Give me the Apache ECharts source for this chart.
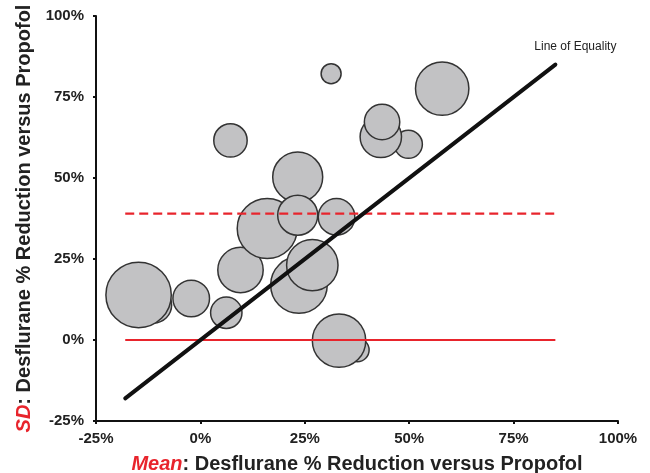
<!DOCTYPE html>
<html>
<head>
<meta charset="utf-8">
<script src="https://cdn.jsdelivr.net/npm/echarts@6/dist/echarts.min.js"></script>
<style>
html,body{margin:0;padding:0;background:#fff;}
#c{width:650px;height:473px;}
</style>
</head>
<body>
<div id="c"></div>
<script>
// Bubble data: mean reduction (%), SD reduction (%), relative weight (bubble radius units)
const meanVals = [-11.2, -14.8, -2.2, 6.2, 9.6, 16.0, 23.6, 26.8, 23.3, 32.6, 23.3, 7.2, 37.6, 33.2, 31.3, 49.8, 43.2, 43.5, 57.9];
const sdVals   = [ 10.8,  13.9, 12.8, 8.4, 21.6, 34.4, 17.0, 23.1, 50.3, 38.0, 38.5, 61.6, -3.1, -0.2, 82.2, 60.4, 62.7, 67.3, 77.6];
const weights  = [ 18.0,  32.7, 18.3, 15.7, 22.7, 30.0, 28.3, 25.7, 25.0, 18.3, 20.0, 16.7, 11.7, 26.7, 10.0, 14.0, 20.7, 17.7, 26.7];

const equalityX = [-18, 85];
const equalityY = [-18, 85];
const sdMeanLevel = 39;   // dashed red
const zeroLevel = 0;      // solid red
const refX = [-18, 85];

const ticks = [-25, 0, 25, 50, 75, 100];

const bubbleData = meanVals.map((m, i) => [m, sdVals[i], weights[i]]);
const eqData = equalityX.map((x, i) => i === equalityX.length - 1
  ? {value: [x, equalityY[i]], symbolSize: 0.1,
     label: {show: true, formatter: 'Line of Equality', position: 'top', offset: [20, -7],
             color: '#222', fontSize: 12, fontFamily: 'Liberation Sans, Arial, sans-serif'}}
  : {value: [x, equalityY[i]], symbolSize: 0.1});
const dashData = refX.map(x => [x, sdMeanLevel]);
const zeroData = refX.map(x => [x, zeroLevel]);

const chart = echarts.init(document.getElementById('c'));
const ff = 'Liberation Sans, Arial, Helvetica, sans-serif';
const red = '#e8242c';

chart.setOption({
  animation: false,
  grid: {left: 96, right: 32, top: 16, bottom: 52, containLabel: false, outerBoundsMode: 'none'},
  xAxis: {
    type: 'value', min: ticks[0], max: ticks[ticks.length - 1], interval: 25,
    axisLine: {show: true, onZero: false, lineStyle: {color: '#111', width: 2}},
    axisTick: {show: true, length: 3, lineStyle: {color: '#111', width: 2}},
    splitLine: {show: false},
    axisLabel: {formatter: v => v + '%', color: '#222', fontSize: 15, fontWeight: 'bold', fontFamily: ff, margin: 10},
    name: '{r|Mean}: Desflurane % Reduction versus Propofol',
    nameLocation: 'middle', nameGap: 33,
    nameTextStyle: {color: '#222', fontSize: 20, fontWeight: 'bold', fontFamily: ff,
      rich: {r: {color: red, fontStyle: 'italic', fontSize: 20, fontWeight: 'bold', fontFamily: ff}}}
  },
  yAxis: {
    type: 'value', min: ticks[0], max: ticks[ticks.length - 1], interval: 25,
    axisLine: {show: true, onZero: false, lineStyle: {color: '#111', width: 2}},
    axisTick: {show: true, length: 3, lineStyle: {color: '#111', width: 2}},
    splitLine: {show: false},
    axisLabel: {formatter: v => v + '%', color: '#222', fontSize: 15, fontWeight: 'bold', fontFamily: ff, margin: 12},
    name: '{r|SD}: Desflurane % Reduction versus Propofol',
    nameLocation: 'middle', nameGap: 57,
    nameTextStyle: {color: '#222', fontSize: 20, fontWeight: 'bold', fontFamily: ff,
      rich: {r: {color: red, fontStyle: 'italic', fontSize: 20, fontWeight: 'bold', fontFamily: ff}}}
  },
  series: [
    {
      type: 'scatter', data: bubbleData, z: 2,
      symbolSize: d => d[2] * 2,
      itemStyle: {color: '#c2c2c4', borderColor: '#333', borderWidth: 1.5, opacity: 1}
    },
    {
      type: 'line', data: dashData, z: 3, showSymbol: false, symbol: 'none',
      lineStyle: {color: red, width: 2.2, type: [9, 5]}
    },
    {
      type: 'line', data: zeroData, z: 3, showSymbol: false, symbol: 'none',
      lineStyle: {color: red, width: 2.2}
    },
    {
      type: 'line', data: eqData, z: 4, showSymbol: true, symbol: 'circle',
      itemStyle: {color: '#111'},
      lineStyle: {color: '#111', width: 4, cap: 'round'}
    }
  ]
});
</script>
</body>
</html>
